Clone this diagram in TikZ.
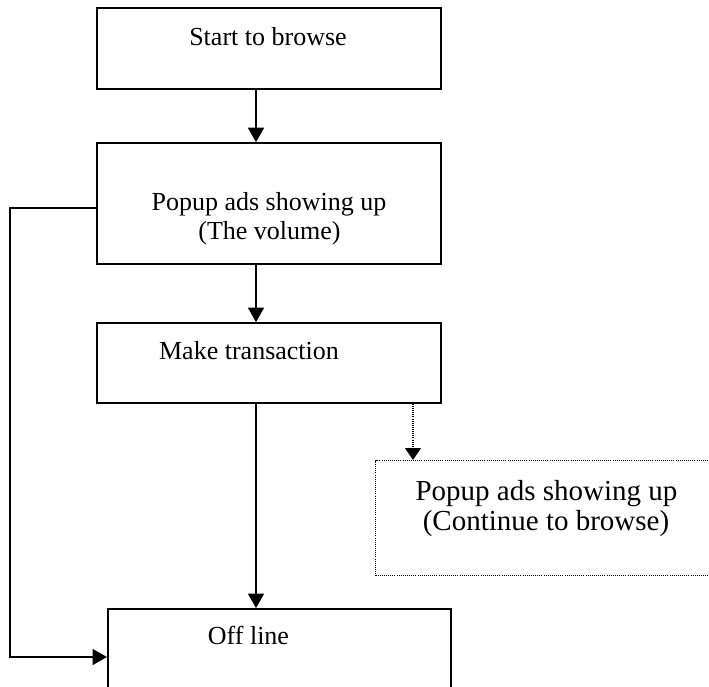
\documentclass[tikz,border=0pt]{standalone}
\usepackage{fontspec}
\setmainfont{Liberation Serif}
\usetikzlibrary{arrows.meta,calc}
\begin{document}
\begin{tikzpicture}[x=1pt,y=-1pt,
  box/.style={draw,line width=1.7pt,rectangle,inner sep=0pt},
  dotbox/.style={draw,line width=1.1pt,dash pattern=on 1pt off 1.1pt,rectangle,inner sep=0pt},
  txt/.style={font=\fontsize{26}{30}\selectfont,inner sep=0pt,anchor=base},
  bigtxt/.style={font=\fontsize{29}{30}\selectfont,inner sep=0pt,anchor=base},
  arr/.style={line width=1.7pt,-{Triangle[length=14.5pt,width=16pt]}},
  dotarr/.style={line width=1.1pt,dash pattern=on 1pt off 1.1pt,-{Triangle[length=12pt,width=16pt]}}]
\clip (0,0) rectangle (709,686);
\fill[white] (0,0) rectangle (709,686);
% boxes
\node[box,minimum width=344pt,minimum height=81pt] (b1) at (269,48.5) {};
\node[box,minimum width=344pt,minimum height=121pt] (b2) at (269,203.5) {};
\node[box,minimum width=344pt,minimum height=80pt] (b3) at (269,363) {};
\node[box,minimum width=343pt,minimum height=110pt,anchor=north west] (b4) at (107,608) {};
\node[dotbox,minimum width=345pt,minimum height=115pt,anchor=north west] (d) at (375,460) {};
% texts
\node[txt] (t1) at (268,45) {Start to browse};
\node[txt] (t2a) at (269,210) {Popup ads showing up};
\node[txt] (t2b) at (269.5,239) {(The volume)};
\node[txt] (t3) at (249,359) {Make transaction};
\node[txt] (t4) at (248.5,644) {Off line};
\node[bigtxt] (t5a) at (546.5,500) {Popup ads showing up};
\node[bigtxt] (t5b) at (546,530) {(Continue to browse)};
% connectors
\coordinate (ax) at (256,0);
\coordinate (dx) at (413,0);
\coordinate (lt) at (10,208);
\coordinate (lb) at (10,657);
\draw[arr] (b1.south -| ax) -- (b2.north -| ax);
\draw[arr] (b2.south -| ax) -- (b3.north -| ax);
\draw[arr] (b3.south -| ax) -- (b4.north -| ax);
\draw[dotarr] (b3.south -| dx) -- (d.north -| dx);
\draw[arr] (b2.west |- lt) -- (lt) -- (lb) -- (b4.west |- lb);
\end{tikzpicture}
\end{document}
